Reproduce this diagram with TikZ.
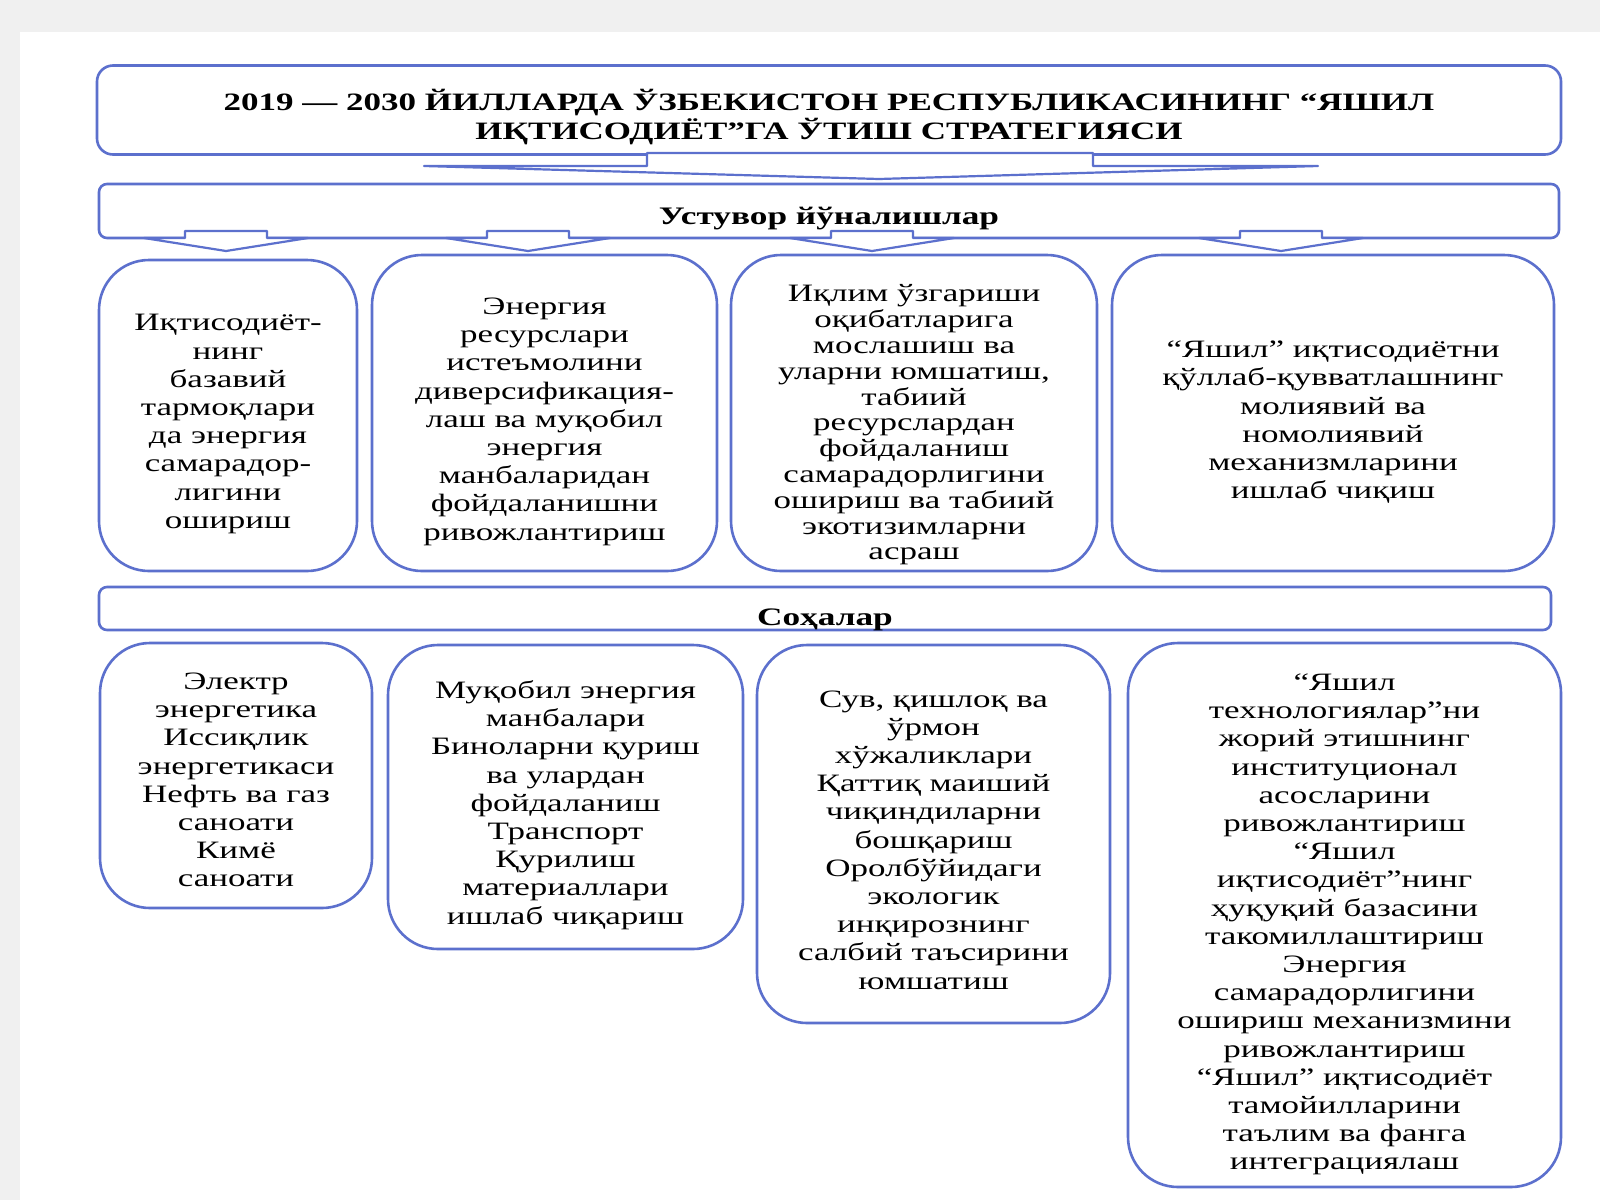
\documentclass[tikz,border=0pt]{standalone}
\usepackage{fontspec}
\usepackage{xcolor}
\usepackage{tikz}
\usetikzlibrary{positioning,calc}
\setmainfont{Liberation Serif}[FakeStretch=1.4]
\definecolor{frameblue}{RGB}{92,112,205}
\definecolor{pagegray}{RGB}{240,240,240}
\tikzset{
  pane/.style={draw=frameblue, line width=1.3pt, fill=white, inner sep=0pt},
  goalbox/.style={pane, rounded corners=25pt},
  bandbox/.style={pane, rounded corners=4pt},
  titlebox/.style={pane, rounded corners=8pt},
  bodytext/.style={align=center, inner sep=0pt, yshift=-4pt,
                   font=\fontsize{12.5}{14.1}\selectfont},
  headtext/.style={bodytext, font=\bfseries\fontsize{12.6}{15}\selectfont},
  blockarrow/.style={draw=frameblue, line width=1.1pt, fill=white, line join=round},
}

\begin{document}
\begin{tikzpicture}[x=0.5pt, y=-0.5pt]
  \useasboundingbox (0,0) rectangle (1600,1200);
  \fill[pagegray] (0,0) rectangle (1600,1200);
  \fill[white] (20,32) rectangle (1600,1200);

  \node[titlebox, minimum width=732pt, minimum height=44.5pt,
        label={[headtext, yshift=0.5pt, font=\bfseries\fontsize{12.5}{14.8}\selectfont]center:{2019 — 2030 ЙИЛЛАРДА ЎЗБЕКИСТОН РЕСПУБЛИКАСИНИНГ “ЯШИЛ\\ИҚТИСОДИЁТ”ГА ЎТИШ СТРАТЕГИЯСИ}}]
    (title) at (829,110) {};
  \node[bandbox, minimum width=730pt, minimum height=27pt,
        label={[headtext]center:Устувор йўналишлар}] (ust) at (829,211) {};
  \draw[blockarrow] (647,153) -- (647,166) -- (424,166) -- (879,179)
    -- (1318,166) -- (1093,166) -- (1093,153) -- cycle;
  \foreach \cx in {226,528,872,1281}
    \draw[blockarrow] (\cx-41,231) -- (\cx-41,238) -- (\cx-82,238) -- (\cx,251)
      -- (\cx+82,238) -- (\cx+41,238) -- (\cx+41,231) -- cycle;

  % priority directions
  \node[goalbox, minimum width=129pt, minimum height=155.5pt,
        label={[bodytext, yshift=-0.3pt]center:{Иқтисодиёт-\\нинг\\базавий\\тармоқлари\\да энергия\\самарадор-\\лигини\\ошириш}}]
    (dir1) at (228,415.5) {};
  \node[goalbox, minimum width=172.5pt, minimum height=158pt,
        label={[bodytext, yshift=-0.3pt]center:{Энергия\\ресурслари\\истеъмолини\\диверсификация-\\лаш ва муқобил\\энергия\\манбаларидан\\фойдаланишни\\ривожлантириш}}]
    (dir2) at (544.5,413) {};
  \node[goalbox, minimum width=183pt, minimum height=158pt,
        label={[bodytext, yshift=-2pt, font=\fontsize{12.5}{12.9}\selectfont]center:{Иқлим ўзгариши\\оқибатларига\\мослашиш ва\\уларни юмшатиш,\\табиий\\ресурслардан\\фойдаланиш\\самарадорлигини\\ошириш ва табиий\\экотизимларни\\асраш}}]
    (dir3) at (914,413) {};
  \node[goalbox, minimum width=221pt, minimum height=158pt,
        label={[bodytext, yshift=-0.6pt]center:{“Яшил” иқтисодиётни\\қўллаб-қувватлашнинг\\молиявий ва\\номолиявий\\механизмларини\\ишлаб чиқиш}}]
    (dir4) at (1333,413) {};

  \node[bandbox, minimum width=726pt, minimum height=21.5pt,
        label={[headtext, yshift=-1.6pt]center:Соҳалар}] (soh) at (825,608.5) {};

  % sectors
  \node[goalbox, minimum width=136pt, minimum height=132.5pt,
        label={[bodytext, yshift=1.7pt]center:{Электр\\энергетика\\Иссиқлик\\энергетикаси\\Нефть ва газ\\саноати\\Кимё\\саноати}}]
    (sec1) at (236,775.5) {};
  \node[goalbox, minimum width=177.5pt, minimum height=152pt,
        label={[bodytext]center:{Муқобил энергия\\манбалари\\Биноларни қуриш\\ва улардан\\фойдаланиш\\Транспорт\\Қурилиш\\материаллари\\ишлаб чиқариш}}]
    (sec2) at (565.5,797) {};
  \node[goalbox, minimum width=176.5pt, minimum height=189pt,
        label={[bodytext, yshift=1pt]center:{Сув, қишлоқ ва\\ўрмон\\хўжаликлари\\Қаттиқ маиший\\чиқиндиларни\\бошқариш\\Оролбўйидаги\\экологик\\инқирознинг\\салбий таъсирини\\юмшатиш}}]
    (sec3) at (933.5,834) {};
  \node[goalbox, minimum width=216.5pt, minimum height=272pt,
        label={[bodytext, yshift=-0.8pt]center:{“Яшил\\технологиялар”ни\\жорий этишнинг\\институционал\\асосларини\\ривожлантириш\\“Яшил\\иқтисодиёт”нинг\\ҳуқуқий базасини\\такомиллаштириш\\Энергия\\самарадорлигини\\ошириш механизмини\\ривожлантириш\\“Яшил” иқтисодиёт\\тамойилларини\\таълим ва фанга\\интеграциялаш}}]
    (sec4) at (1344.5,915) {};
\end{tikzpicture}
\end{document}
